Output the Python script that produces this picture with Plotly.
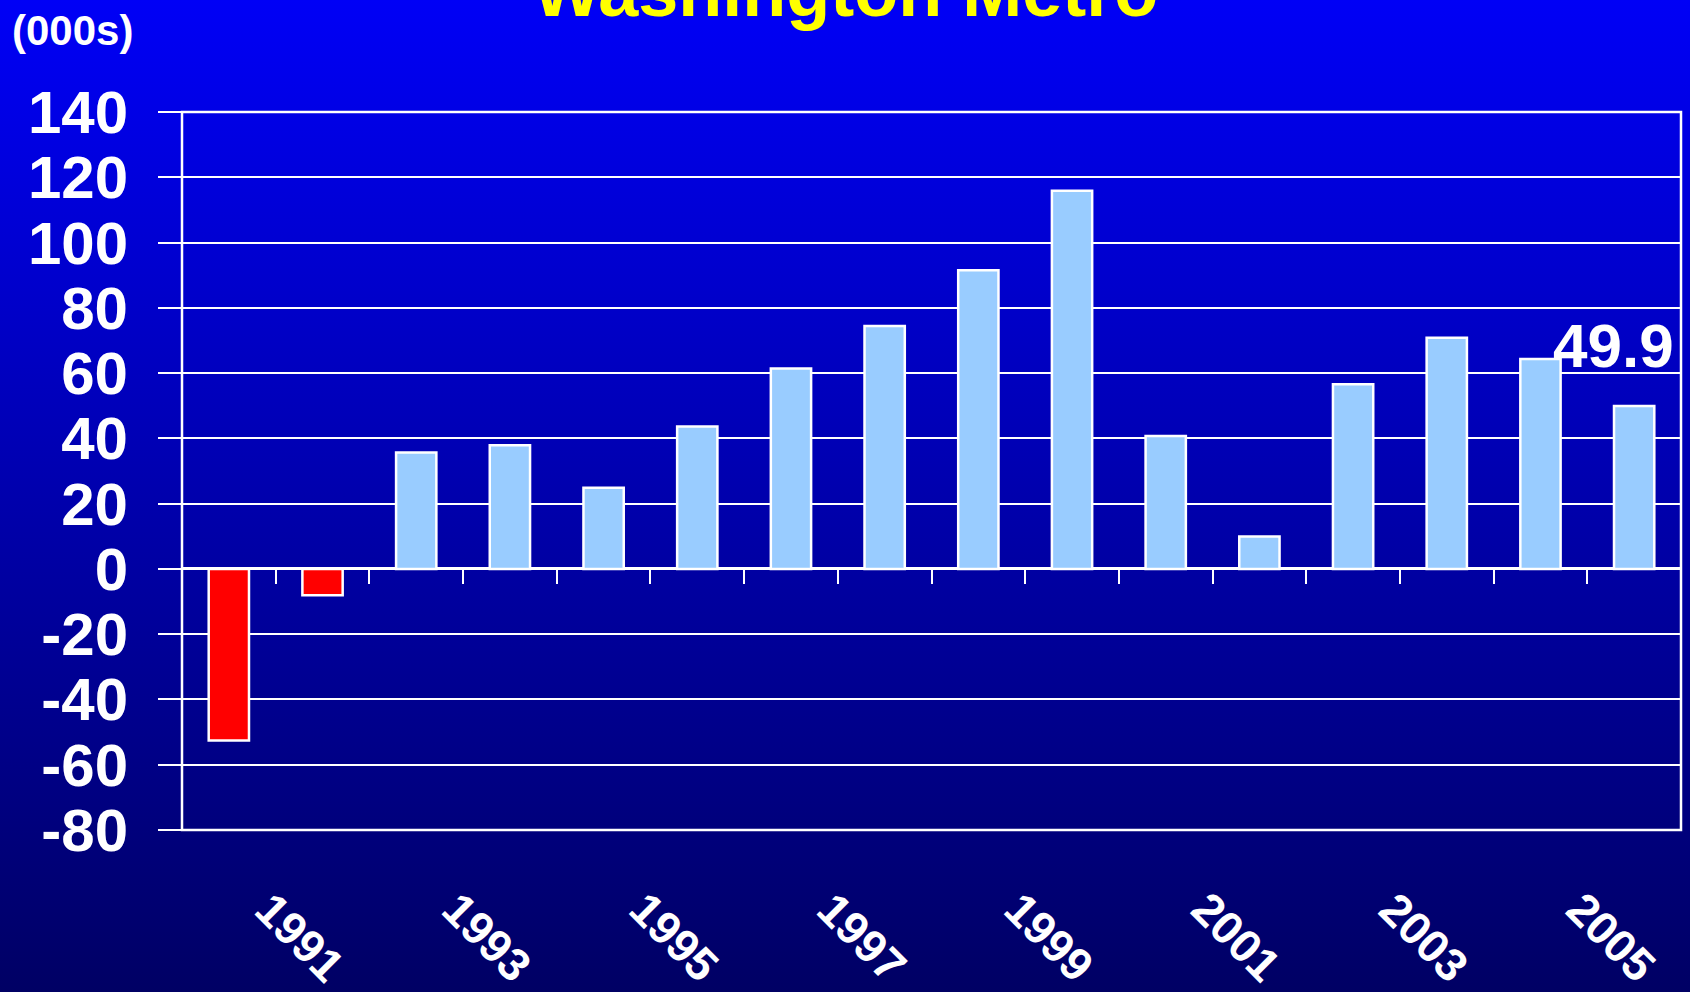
import base64
import plotly.graph_objects as go

# ---- data ----
years = list(range(1990, 2006))
values = [-52.6, -8.1, 35.7, 37.9, 24.9, 43.6, 61.4, 74.4, 91.5, 115.9, 40.7, 9.9, 56.6, 70.8, 64.3, 49.9]
label_years = [1991, 1993, 1995, 1997, 1999, 2001, 2003, 2005]
y_ticks = [140, 120, 100, 80, 60, 40, 20, 0, -20, -40, -60, -80]
title_text = "Washington Metro"
unit_text = "(000s)"
last_label = "49.9"

W, H = 1690, 992
ML, MR, MT, MB = 182, 9, 112, 162
PW, PH = W - ML - MR, H - MT - MB
YMIN, YMAX = -80, 140
FONT = "Liberation Sans, Arial, sans-serif"

bar_colors = ["#FF0000" if v < 0 else "#99CCFF" for v in values]

# background gradient as an SVG image
svg = (
    f'<svg xmlns="http://www.w3.org/2000/svg" width="{W}" height="{H}" preserveAspectRatio="none">'
    '<defs><linearGradient id="g" x1="0" y1="0" x2="0" y2="1">'
    '<stop offset="0" stop-color="rgb(0,0,246)"/>'
    '<stop offset="1" stop-color="rgb(0,0,100)"/>'
    '</linearGradient></defs>'
    f'<rect width="{W}" height="{H}" fill="url(#g)"/></svg>'
)
bg_src = "data:image/svg+xml;base64," + base64.b64encode(svg.encode()).decode()

fig = go.Figure()
fig.add_trace(go.Bar(
    x=years, y=values, width=0.43,
    marker=dict(color=bar_colors, line=dict(color="white", width=2.5)),
    hoverinfo="skip",
))

zero_pos = (0 - YMIN) / (YMAX - YMIN)
boundaries = [y + 0.5 for y in years[:-1]]

annotations = []
for yr in label_years:
    annotations.append(dict(
        x=yr, y=0, xref="x", yref="paper", text=str(yr), showarrow=False,
        textangle=45, xanchor="center", yanchor="middle", xshift=-23, yshift=-107,
        font=dict(family=FONT, size=46, color="white", weight="bold"),
    ))
annotations.append(dict(
    x=years[-1], y=values[-1], xref="x", yref="y", text=last_label, showarrow=False,
    xanchor="center", yanchor="middle", xshift=-21, yshift=61,
    font=dict(family=FONT, size=62, color="white", weight="bold"),
))
annotations.append(dict(
    x=0.5, y=1, xref="paper", yref="paper", text=title_text, showarrow=False,
    xanchor="center", yanchor="middle", xshift=(W / 2) - (ML + PW / 2), yshift=121,
    font=dict(family=FONT, size=72, color="#FFFF00", weight="bold"),
))
annotations.append(dict(
    x=0, y=1, xref="paper", yref="paper", text=unit_text, showarrow=False,
    xanchor="left", yanchor="middle", xshift=-172, yshift=82,
    font=dict(family=FONT, size=42, color="white", weight="bold"),
))

fig.update_layout(
    width=W, height=H,
    margin=dict(l=ML, r=MR, t=MT, b=MB, pad=0),
    paper_bgcolor="rgb(0,0,170)",
    plot_bgcolor="rgba(0,0,0,0)",
    showlegend=False,
    bargap=0.57,
    annotations=annotations,
    images=[dict(
        source=bg_src, xref="paper", yref="paper",
        x=-ML / PW, y=1 + MT / PH, sizex=W / PW, sizey=H / PH,
        xanchor="left", yanchor="top", sizing="stretch", layer="below",
    )],
    shapes=[dict(
        type="rect", xref="paper", yref="paper", x0=0, y0=0, x1=1, y1=1,
        line=dict(color="white", width=2.5), layer="above",
    )],
    xaxis=dict(
        range=[years[0] - 0.5, years[-1] + 0.5],
        anchor="free", position=zero_pos,
        showgrid=False, zeroline=False, showline=False,
        tickmode="array", tickvals=boundaries,
        ticks="outside", ticklen=14, tickwidth=2, tickcolor="white",
        showticklabels=False,
    ),
    yaxis=dict(
        range=[YMIN, YMAX],
        tickmode="array", tickvals=y_ticks, ticktext=[str(t) for t in y_ticks],
        showgrid=True, gridcolor="white", gridwidth=2,
        zeroline=True, zerolinecolor="white", zerolinewidth=2.5,
        showline=False,
        ticks="outside", ticklen=23, tickwidth=2, tickcolor="white",
        ticklabelstandoff=18,
        tickfont=dict(family=FONT, size=60, color="white", weight="bold"),
    ),
)

fig.write_html(
    "out.html",
    config={"displayModeBar": False},
    post_script="document.body.style.margin='0';document.body.style.overflow='hidden';",
)
